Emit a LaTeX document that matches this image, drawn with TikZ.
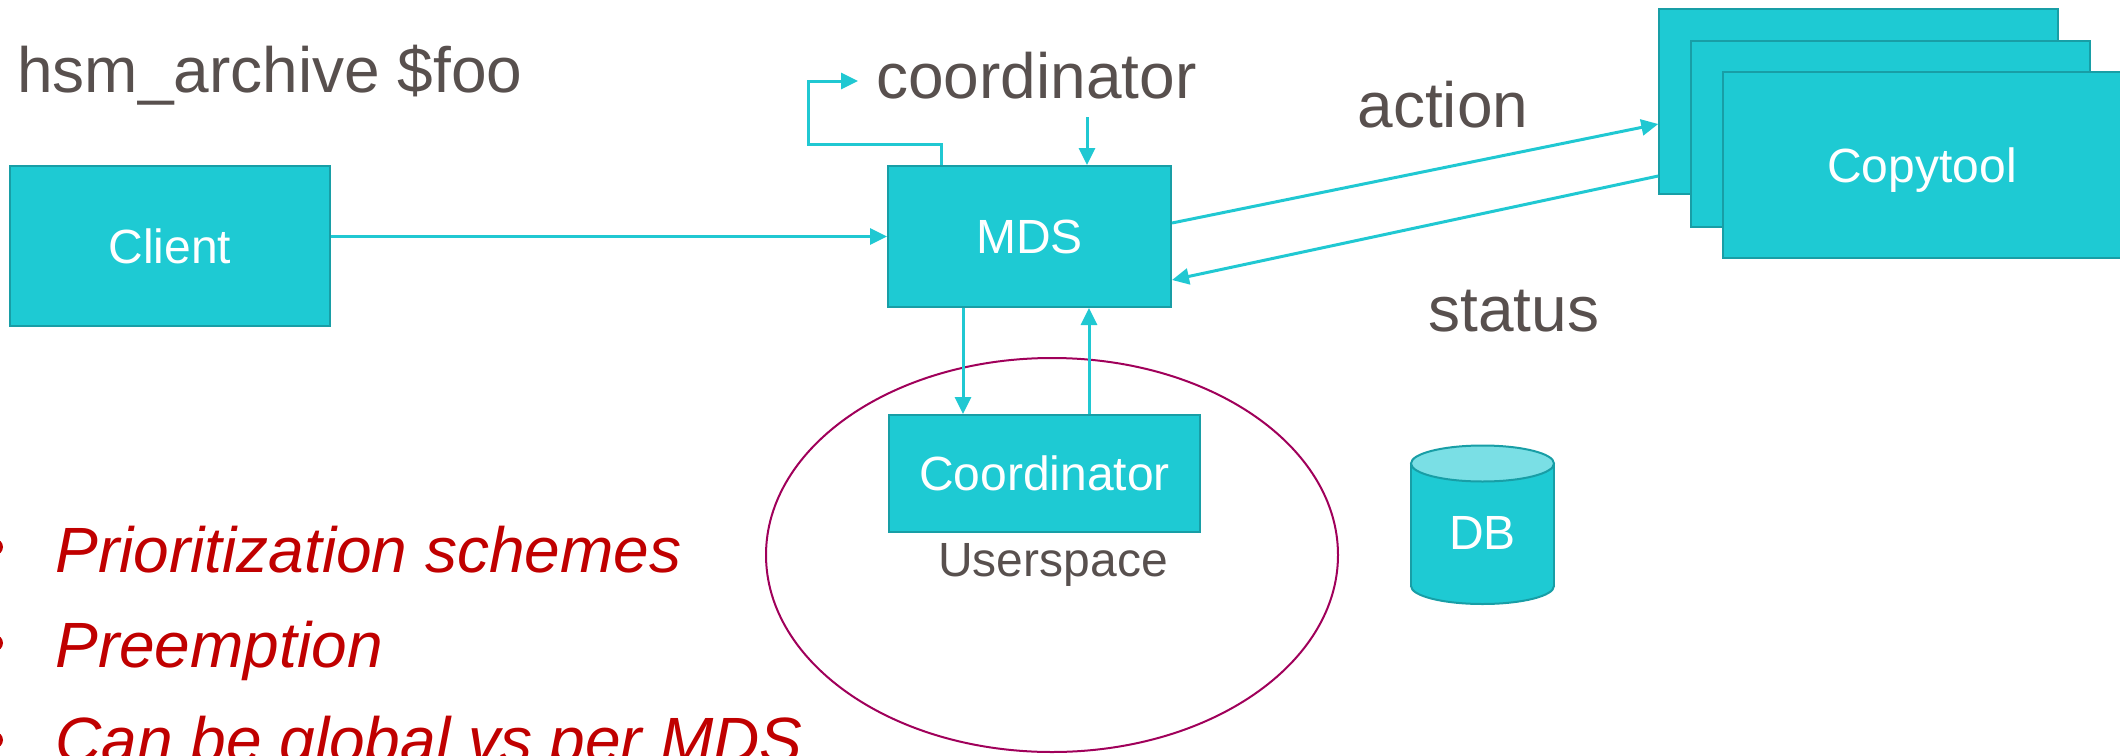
\documentclass[tikz,border=0pt]{standalone}
\usepackage{fontspec}
\setmainfont{Liberation Sans}
\usetikzlibrary{arrows.meta,calc}
\definecolor{cyanfill}{RGB}{30,202,211}
\definecolor{cyanedge}{RGB}{24,158,166}
\definecolor{cyanline}{RGB}{32,200,210}
\definecolor{lighttop}{RGB}{122,223,229}
\definecolor{txtgray}{RGB}{88,80,78}
\definecolor{bulletred}{RGB}{192,0,0}
\definecolor{ellcol}{RGB}{160,0,90}
\begin{document}
\begin{tikzpicture}[x=0.5pt,y=-0.5pt,
  box/.style={draw=cyanedge, line width=1pt, fill=cyanfill, text=white,
    font=\fontsize{24}{28}\selectfont, inner sep=0pt, text depth=0pt},
  arr/.style={draw=cyanline, line width=1.5pt, -{Triangle[length=8.5pt,width=8pt]}},
  lbl/.style={text=txtgray, font=\fontsize{32}{38}\selectfont, inner sep=0pt, anchor=base west},
  bullettxt/.style={text=bulletred, font=\fontsize{32}{38}\selectfont\itshape, inner sep=0pt, anchor=base west},
  dbedge/.style={draw=cyanedge, line width=1pt}]
\useasboundingbox (0,0) rectangle (2120,755);

% userspace ellipse
\draw[ellcol, line width=1pt] (1052,555) ellipse [x radius=286, y radius=197];

% boxes
\node[box, minimum width=160pt, minimum height=80pt] (client) at (170,246) {Client};
\node[box, minimum width=141.5pt, minimum height=70.5pt] (mds) at (1029.5,236.5) {MDS};
\node[box, minimum width=155.5pt, minimum height=58.5pt] (crd) at (1044.5,473.5) {Coordinator};
\node[box, minimum width=199.25pt, minimum height=92.5pt] (ct1) at (1858.5,101.5) {};
\node[box, minimum width=199.5pt, minimum height=93pt] (ct2) at (1890.5,133.7) {};
\node[box, minimum width=199.5pt, minimum height=93pt] (ct3) at (1922,165.3) {Copytool};

% DB cylinder
\fill[cyanfill] (1411,463.5) rectangle (1554,586);
\fill[cyanfill] (1482.5,586) ellipse [x radius=71.5, y radius=18];
\begin{scope}
  \clip (1400,586) rectangle (1570,620);
  \draw[dbedge] (1482.5,586) ellipse [x radius=71.5, y radius=18];
\end{scope}
\draw[dbedge] (1411,463.5) -- (1411,586) (1554,463.5) -- (1554,586);
\draw[dbedge, fill=lighttop] (1482.5,463.5) ellipse [x radius=71.5, y radius=18];
\node[text=white, font=\fontsize{24}{28}\selectfont, inner sep=0pt] (db) at (1482.5,533) {DB};

% labels
\node[lbl] (hsm) at (17,92) {hsm\_archive \$foo};
\node[lbl] (coordlbl) at (876,98) {coordinator};
\node[lbl] (actionlbl) at (1357,127) {action};
\node[lbl] (statuslbl) at (1428,331) {status};
\node[text=txtgray, font=\fontsize{24}{28}\selectfont, inner sep=0pt, anchor=base] (userspace) at (1053,576) {Userspace};

% red bullets
\fill[bulletred] (-5,547) circle [radius=8];
\fill[bulletred] (-5,643) circle [radius=8];
\fill[bulletred] (-5,740) circle [radius=8];
\node[bullettxt] (b1) at (55,572) {Prioritization schemes};
\node[bullettxt] (b2) at (55,667) {Preemption};
\node[bullettxt] (b3) at (55,762) {Can be global vs per MDS};

% connectors
\coordinate (loopend) at (858,81);
\draw[arr] (client.east |- mds.west) -- (mds.west);
\draw[arr] ($(mds.north west)+(54,0)$) -- ++(0,-21) -| (808.5,81) -- (loopend);
\draw[arr] ($(mds.north west)+(200,-48)$) -- ($(mds.north west)+(200,0)$);
\draw[arr] (mds.south -| 963,0) -- (crd.north -| 963,0);
\draw[arr] (crd.north -| 1089,0) -- (mds.south -| 1089,0);
\draw[arr] ($(mds.north east)+(0,58)$) -- ($(ct1.north west)+(0,116)$);
\draw[arr] ($(ct1.north west)+(0,168)$) -- ($(mds.north east)+(0,115)$);
\end{tikzpicture}
\end{document}
